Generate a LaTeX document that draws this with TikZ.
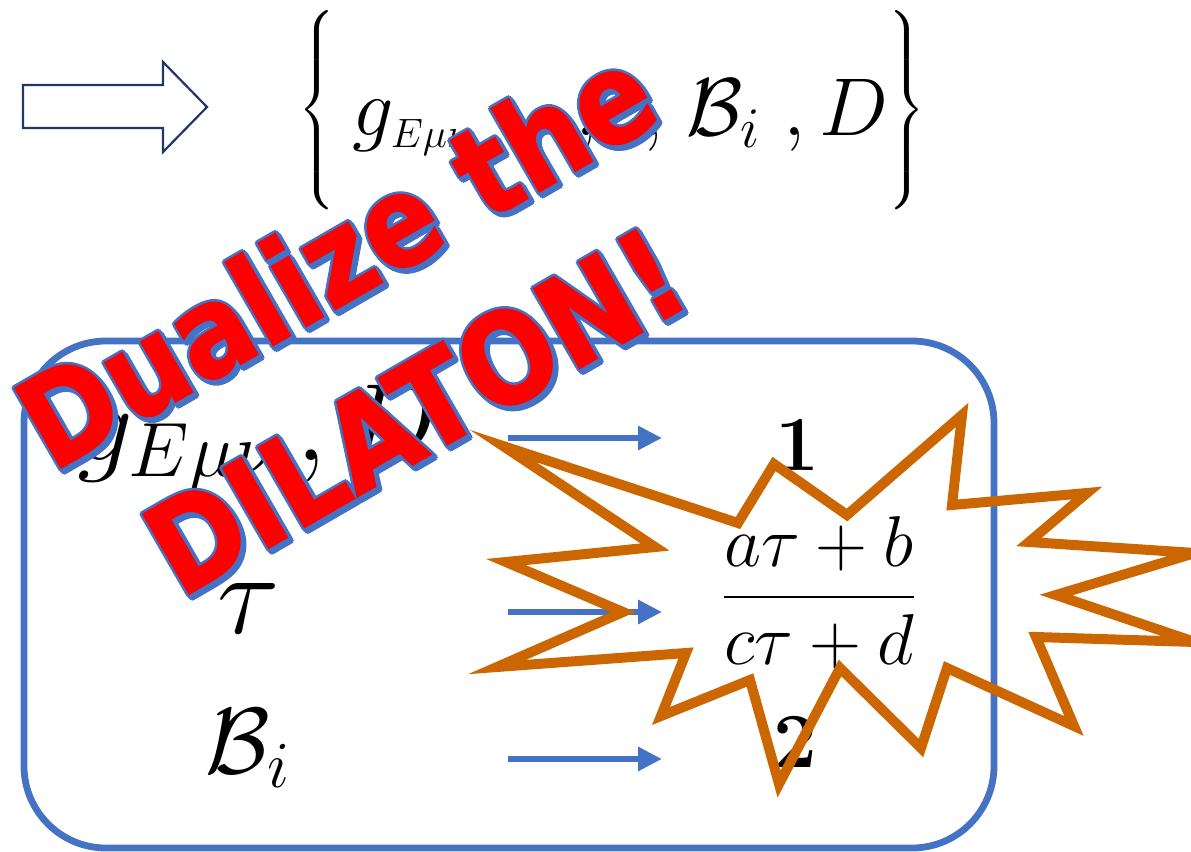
\RequirePackage{fix-cm}
\documentclass[tikz,border=0pt]{standalone}
\usepackage{amsmath}
\usepackage{fontspec}
\newfontfamily\wafont{DejaVu Sans}[FakeStretch=0.88,FakeBold=1.5]
\usetikzlibrary{arrows.meta}
\definecolor{boxblue}{RGB}{68,114,196}
\definecolor{navy}{RGB}{31,56,100}
\definecolor{starorange}{RGB}{204,102,0}
\definecolor{wared}{RGB}{255,0,0}
\newcommand\wordart[3]{%
  \foreach \cx/\cy in {0/0,0.8/-0.8,1.6/-1.6}{%
    \foreach \ang in {0,45,...,315}{%
      \node[xshift={(\cx+1.3*cos(\ang))*1pt}, yshift={(\cy+1.3*sin(\ang))*1pt}, wa, text=boxblue] at (#2) {#3};
    }}%
  \node[wa, text=wared] (#1) at (#2) {#3};
}
\begin{document}
\begin{tikzpicture}[x=0.5pt,y=-0.5pt,
  boxline/.style={draw=boxblue, line width=3.4pt, rounded corners=41pt},
  flow/.style={draw=boxblue, line width=3pt, -{Triangle[length=12pt,width=11.5pt]}},
  blockarrow/.style={draw=navy, line width=1.1pt, line join=miter},
  starline/.style={draw=starorange, line width=5pt, line join=miter},
  lbl/.style={anchor=base west, inner sep=0pt},
  wa/.style={anchor=base west, rotate=30, inner sep=0pt, font=\fontsize{63}{66}\wafont\bfseries}]
\useasboundingbox (0,0) rectangle (1191,852);

% rounded box
\draw[boxline] (24,341) rectangle (994,848);

% block arrow
\draw[blockarrow] (23,85) -- (163,85) -- (163,62) -- (207,107) -- (163,152) -- (163,128) -- (23,128) -- cycle;

% top set
\node[inner sep=0pt, font=\fontsize{21}{25}\selectfont] (lbrace) at (318,110) {$\left\{\vcenter{\hrule height 100pt width 0pt}\right.$};
\node[inner sep=0pt, font=\fontsize{21}{25}\selectfont] (rbrace) at (906,110) {$\left.\vcenter{\hrule height 100pt width 0pt}\right\}$};
\node[lbl, font=\fontsize{41}{48}\selectfont] (topset) at (352,135)
  {$g_{\scriptscriptstyle E\mu\nu}\mkern23mu{,}\tau{,}\mkern5mu\mathcal{B}_i\mkern5mu{,}\mkern3mu D$};

% left labels
\node[lbl, font=\fontsize{55}{60}\selectfont] (lg) at (77,460) {$g_{E\mu\nu}\mkern3mu{,}\mkern3mu D$};
\node[lbl, font=\fontsize{58}{64}\selectfont] (ltau) at (217,633) {$\tau$};
\node[lbl, font=\fontsize{47}{54}\selectfont] (lB) at (205,773) {$\mathcal{B}_i$};

% right labels
\node[anchor=base, inner sep=0pt, font=\fontsize{39}{44}\selectfont\bfseries] (one) at (797,470) {1};
\node[anchor=base, inner sep=0pt, font=\fontsize{39}{44}\selectfont\bfseries] (two) at (795,767) {2};
\node[anchor=base, inner sep=0pt, font=\fontsize{36}{44}\selectfont] (frac) at (819,615) {$\dfrac{a\tau+b}{c\tau+d}$};

% arrows
\coordinate (a1s) at (508,438); \coordinate (a1e) at (662,438);
\coordinate (a2s) at (508,612); \coordinate (a2e) at (662,612);
\coordinate (a3s) at (508,759); \coordinate (a3e) at (662,759);
\draw[flow] (a1s) -- (a1e);
\draw[flow] (a2s) -- (a2e);
\draw[flow] (a3s) -- (a3e);

% starburst
\draw[starline] (962,415) -- (952,505) -- (1087,493) -- (1029,542) -- (1195,553) -- (1056,595) -- (1195,642) -- (1036,637) -- (1074,726) -- (947,668) -- (921,748) -- (840,668) -- (779,784) -- (750,680) -- (661,716) -- (686,653) -- (497,667) -- (623,612) -- (506,562) -- (655,547) -- (503,446) -- (738,523) -- (774,464) -- (847,515) -- cycle;

% word art
\wordart{dualize}{52,473}{Dualize the}
\wordart{dilaton}{180,599}{DILATON!}
\end{tikzpicture}
\end{document}
